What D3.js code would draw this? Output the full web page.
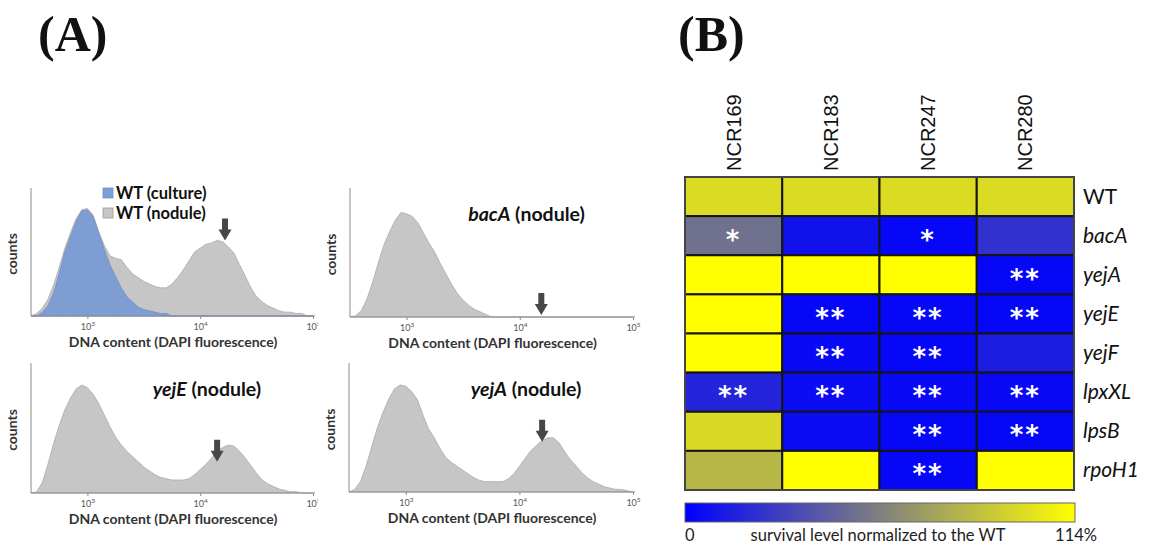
<!DOCTYPE html>
<html>
<head>
<meta charset="utf-8">
<script src="https://cdn.jsdelivr.net/npm/d3@7"></script>
<style>
  body { margin: 0; background: #fff; }
  svg { display: block; }
</style>
</head>
<body>
<div id="chart"></div>
<script>
// --- (A) flow cytometry histograms: counts per log10 bin (2.50 .. 5.00, step 0.05)
const binExp = d3.range(0, 51).map(i => +(2.5 + i * 0.05).toFixed(2));

const wtCulture = [0,0,3,8,18,33,50,62,74,82, 83,78,65,52,40,31,22,15,11,7,
  5,4,3,2,2,0,0,0,0,0, 0,0,0,0,0,0,0,0,0,0, 0,0,0,0,0,0,0,0,0,0, 0];
const wtNodule = [0,2,6,13,24,38,53,65,76,83, 84,79,66,55,47,45,44,38,33,30,
  27,25,23,22,22,25,30,36,43,50, 53,56,57,59,58,54,49,40,31,22, 15,11,8,6,4,3,3,2,2,0, 0];
const bacANodule = [0,1,5,14,27,42,56,66,75,81, 80,78,73,65,57,50,41,33,25,18,
  13,9,6,4,2,0,0,0,0,0, 0,0,0,0,0,0,0,0,0,0, 0,0,0,0,0,0,0,0,0,0, 0];
const yejENodule = [0,1,8,22,38,52,64,73,80,83, 81,76,69,60,51,43,37,32,28,24,
  20,17,14,12,11,10,10,10,11,14, 18,22,27,32,35,37,36,32,27,21, 15,10,7,5,3,2,1,1,0,0, 0];
const yejANodule = [0,2,8,20,35,50,62,72,80,83, 82,78,72,60,49,42,34,27,23,20,
  17,14,11,9,8,8,8,8,10,14, 20,26,32,36,40,42,42,38,31,25, 20,15,11,8,6,4,3,2,2,1, 0];

const decadeTicks = [1e3, 1e4, 1e5];
// arrow: [log10 position, tip height in counts units]
const arrows = { wt: [4.22, 59], bacA: [4.19, 1.5], yejE: [4.15, 24], yejA: [4.2, 39] };

// --- (B) survival heatmap
const ncrPeptides = ["NCR169", "NCR183", "NCR247", "NCR280"];
const strains = ["WT", "bacA", "yejA", "yejE", "yejF", "lpxXL", "lpsB", "rpoH1"];
const survival = [
  [98, 98, 98, 98],
  [50, 8, 3, 22],
  [114, 114, 114, 3],
  [114, 3, 3, 3],
  [114, 4, 3, 13],
  [16, 5, 4, 4],
  [97, 5, 3, 3],
  [82, 114, 3, 114]
];
const stars = [
  ["", "", "", ""],
  ["*", "", "*", ""],
  ["", "", "", "**"],
  ["", "**", "**", "**"],
  ["", "**", "**", ""],
  ["**", "**", "**", "**"],
  ["", "", "**", "**"],
  ["", "", "**", ""]
];
const survivalMax = 114;

const W = 1150, H = 550;
const svg = d3.select("#chart").append("svg")
    .attr("width", W).attr("height", H)
    .attr("viewBox", `0 0 ${W} ${H}`);
svg.append("rect").attr("width", W).attr("height", H).attr("fill", "#fff");

const sans = "Lato, 'Open Sans', sans-serif";

// panel letters
[["(A)", 38], ["(B)", 678]].forEach(([t, x]) => {
    svg.append("text").attr("x", x).attr("y", 51).text(t)
        .style("font-family", "'Liberation Serif', serif").style("font-weight", "bold")
        .style("font-size", "50px").attr("fill", "#111");
});

const defs = svg.append("defs");
defs.append("clipPath").attr("id", "left-clip")
    .append("rect").attr("x", 0).attr("y", 0).attr("width", 318).attr("height", H);

const panels = [
    {id: "wt", xr: [31, 313], yr: [316, 188], series: [wtNodule, wtCulture], title: null, clip: true},
    {id: "bacA", xr: [350, 633], yr: [317, 188], series: [bacANodule], title: "bacA", clip: false},
    {id: "yejE", xr: [31, 313], yr: [493, 363], series: [yejENodule], title: "yejE", clip: true},
    {id: "yejA", xr: [349, 633], yr: [492, 363], series: [yejANodule], title: "yejA", clip: false}
];
const fills = ["#c6c6c6", "#7d9dd3"];
const strokes = ["#a9a9a9", "#6f8fc6"];

const drawHistogram = (p) => {
    const g = svg.append("g");
    if (p.clip) g.attr("clip-path", "url(#left-clip)");

    const x = d3.scaleLog().domain([10 ** 2.5, 1e5]).range(p.xr);
    const y = d3.scaleLinear().domain([0, 100]).range(p.yr);

    const area = d3.area()
        .x(d => x(10 ** d[0]))
        .y0(y(0))
        .y1(d => y(d[1]));

    p.series.forEach((vals, i) => {
        const pts = binExp.map((b, k) => [b, vals[k]]);
        g.append("path").datum(pts)
            .attr("fill", fills[i]).attr("stroke", strokes[i]).attr("stroke-width", 0.8)
            .attr("d", area);
    });

    // axes
    g.append("line").attr("x1", p.xr[0]).attr("x2", p.xr[0])
        .attr("y1", p.yr[1]).attr("y2", p.yr[0]).attr("stroke", "#8c8c8c");
    const ax = g.append("g").attr("transform", `translate(0,${p.yr[0]})`)
        .call(d3.axisBottom(x).tickValues(decadeTicks).tickSize(3).tickSizeOuter(0).tickFormat(""));
    ax.select(".domain").attr("stroke", "#8c8c8c").attr("d", `M${p.xr[0]},0H${p.xr[1] + 2}`);
    ax.selectAll(".tick line").attr("stroke", "#8c8c8c");
    ax.selectAll(".tick text").remove();
    ax.selectAll(".tick").append("text")
        .attr("y", 14).attr("text-anchor", "middle").attr("fill", "#555")
        .style("font-family", sans).style("font-size", "9px")
        .each(function(d) {
            const t = d3.select(this);
            t.append("tspan").text("10");
            t.append("tspan").attr("dy", -4).style("font-size", "6.5px").text(Math.round(Math.log10(d)));
        });

    g.append("text")
        .attr("x", (p.xr[0] + p.xr[1]) / 2 + 1).attr("y", p.yr[0] + 31)
        .attr("text-anchor", "middle").attr("fill", "#333")
        .style("font-family", sans).style("font-weight", "bold").style("font-size", "14px")
        .text("DNA content (DAPI fluorescence)");

    g.append("text")
        .attr("transform", `translate(${p.xr[0] - 14},${(p.yr[0] + p.yr[1]) / 2 + 2}) rotate(-90)`)
        .attr("text-anchor", "middle").attr("fill", "#333")
        .style("font-family", sans).style("font-weight", "bold").style("font-size", "14px")
        .text("counts");

    if (p.title) {
        const t = g.append("text")
            .attr("x", (p.xr[0] + p.xr[1]) / 2 + 35).attr("y", p.yr[1] + 33)
            .attr("text-anchor", "middle").attr("fill", "#111")
            .style("font-family", sans).style("font-weight", "bold").style("font-size", "19.5px");
        t.append("tspan").style("font-style", "italic").text(p.title);
        t.append("tspan").text(" (nodule)");
    }

    // arrow
    const [ax0, ay0] = arrows[p.id];
    const cx = x(10 ** ax0), tip = y(ay0);
    g.append("path")
        .attr("d", `M${cx - 3},${tip - 22}H${cx + 3}V${tip - 11}H${cx + 6.5}L${cx},${tip}L${cx - 6.5},${tip - 11}H${cx - 3}Z`)
        .attr("fill", "#474747");
};

panels.forEach(drawHistogram);

// legend in panel 1
const legend = [["WT (culture)", fills[1], strokes[1]], ["WT (nodule)", fills[0], "#999"]];
legend.forEach((l, i) => {
    svg.append("rect").attr("x", 103).attr("y", 188 + i * 20).attr("width", 10).attr("height", 10)
        .attr("fill", l[1]).attr("stroke", l[2]).attr("stroke-width", 0.8);
    svg.append("text").attr("x", 116).attr("y", 199 + i * 20).text(l[0])
        .attr("fill", "#111")
        .style("font-family", sans).style("font-weight", "bold").style("font-size", "16.5px");
});

// --- heatmap
const color = d3.scaleLinear().domain([0, survivalMax]).range(["#0000ff", "#ffff00"])
    .interpolate(d3.interpolateRgb);
const xb = d3.scaleBand().domain(ncrPeptides).range([685, 1074]);
const yb = d3.scaleBand().domain(strains).range([177, 490]);

const cells = [];
strains.forEach((s, r) => ncrPeptides.forEach((c, k) => {
    cells.push({strain: s, ncr: c, value: survival[r][k], mark: stars[r][k]});
}));

svg.append("g").selectAll("rect").data(cells).enter().append("rect")
    .attr("x", d => xb(d.ncr)).attr("y", d => yb(d.strain))
    .attr("width", xb.bandwidth()).attr("height", yb.bandwidth())
    .attr("fill", d => color(d.value))
    .attr("stroke", "#151515").attr("stroke-width", 2);

svg.append("rect").attr("x", 685).attr("y", 177).attr("width", 389).attr("height", 313)
    .attr("fill", "none").attr("stroke", "#555").attr("stroke-width", 1.5);

svg.append("g").selectAll("text").data(cells.filter(d => d.mark)).enter().append("text")
    .attr("x", d => xb(d.ncr) + xb.bandwidth() / 2)
    .attr("y", d => yb(d.strain) + yb.bandwidth() / 2 + 13)
    .attr("text-anchor", "middle").attr("fill", "#fff")
    .style("font-family", "'DejaVu Sans', sans-serif").style("font-weight", "bold")
    .style("font-size", "26px").style("letter-spacing", "2px")
    .text(d => d.mark);

svg.append("g").selectAll("text").data(ncrPeptides).enter().append("text")
    .attr("transform", d => `translate(${xb(d) + xb.bandwidth() / 2 + 7},171) rotate(-90)`)
    .attr("fill", "#111")
    .style("font-family", "'Liberation Sans', Arial, sans-serif").style("font-size", "20px")
    .text(d => d);

svg.append("g").selectAll("text").data(strains).enter().append("text")
    .attr("x", 1083).attr("y", d => yb(d) + yb.bandwidth() / 2 + 7)
    .attr("fill", "#111")
    .style("font-family", sans).style("font-size", "21px")
    .style("font-style", d => d === "WT" ? "normal" : "italic")
    .text(d => d);

// colour bar
const grad = defs.append("linearGradient").attr("id", "survival-grad")
    .attr("x1", "0%").attr("x2", "100%").attr("y1", "0%").attr("y2", "0%");
d3.range(0, 11).forEach(i => {
    grad.append("stop").attr("offset", `${i * 10}%`).attr("stop-color", color(survivalMax * i / 10));
});
svg.append("rect").attr("x", 685).attr("y", 503).attr("width", 390).attr("height", 19)
    .attr("fill", "url(#survival-grad)").attr("stroke", "#666").attr("stroke-width", 1);

const barLabels = [["0", 685, "start"], ["survival level normalized to the WT", 878, "middle"], ["114%", 1097, "end"]];
barLabels.forEach(b => {
    svg.append("text").attr("x", b[1]).attr("y", 541).attr("text-anchor", b[2])
        .attr("fill", "#222")
        .style("font-family", sans).style("font-size", "16.5px")
        .text(b[0]);
});
</script>
</body>
</html>
